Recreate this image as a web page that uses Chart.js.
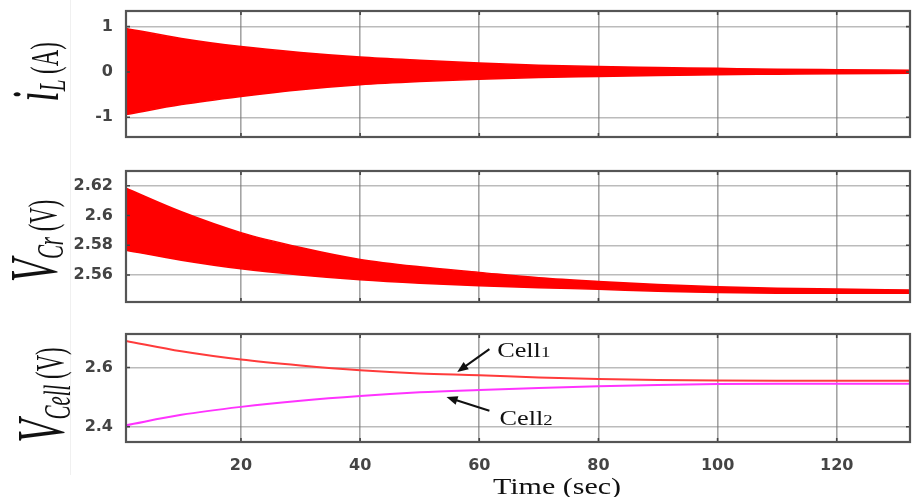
<!DOCTYPE html>
<html>
<head>
<meta charset="utf-8">
<script src="https://cdn.jsdelivr.net/npm/chart.js@4.4.0/dist/chart.umd.min.js"></script>
<style>
  html, body { margin: 0; padding: 0; background: #fff; }
  body { width: 912px; height: 497px; position: relative; overflow: hidden; }
  .panel { position: absolute; left: 0; width: 912px; }
  .edge { position: absolute; left: 70px; top: 0; width: 1px; height: 475px; background: #f0f0f0; }
  .ylab { position: absolute; white-space: nowrap; line-height: 1; color: #111;
          font-family: "Liberation Serif", "Times New Roman", serif;
          transform: translate(-50%, -50%) rotate(-90deg) scale(0.95, 1.7); }
  .ylab .m { font-style: italic; font-size: 40px; }
  .ylab sub { font-style: italic; font-size: 22px; vertical-align: -4px; }
  .ylab .u { font-size: 24px; margin-left: 6px; }
  .xlab { position: absolute; left: 557px; top: 486px; white-space: nowrap; line-height: 1;
          font-family: "Liberation Serif", "Times New Roman", serif; font-size: 24px; color: #111;
          transform: translate(-50%, -50%) scaleX(1.25); }
</style>
</head>
<body>
<div class="edge"></div>
<div class="panel" style="top:0;height:150px"><canvas id="c1"></canvas></div>
<div class="panel" style="top:155px;height:160px"><canvas id="c2"></canvas></div>
<div class="panel" style="top:320px;height:177px"><canvas id="c3"></canvas></div>

<div class="ylab" style="left:37px;top:72px"><span class="m">i</span><sub>L</sub><span class="u">(A)</span></div>
<div class="ylab" style="left:35px;top:241px"><span class="m">V</span><sub>Cr</sub><span class="u">(V)</span></div>
<div class="ylab" style="left:42px;top:395px"><span class="m">V</span><sub>Cell</sub><span class="u">(V)</span></div>
<div class="xlab">Time (sec)</div>

<script>
// values (envelopes of the oscillating traces)
const timeSec = [0.7, 10, 20, 30, 40, 50, 60, 70, 80, 90, 100, 110, 120, 132.3];
const iLUpper = [0.96, 0.74, 0.56, 0.43, 0.33, 0.26, 0.20, 0.15, 0.12, 0.10, 0.08, 0.06, 0.05, 0.04];
const iLLower = [-0.94, -0.72, -0.54, -0.39, -0.28, -0.21, -0.16, -0.12, -0.10, -0.08, -0.06, -0.05, -0.04, -0.03];
const vCrUpper = [2.6183, 2.6025, 2.5885, 2.5785, 2.5705, 2.5655, 2.5618, 2.5582, 2.5557, 2.5537, 2.5522, 2.5512, 2.5506, 2.5499];
const vCrLower = [2.5767, 2.5700, 2.5642, 2.5600, 2.5568, 2.5545, 2.5528, 2.5515, 2.5504, 2.5492, 2.5482, 2.5478, 2.5477, 2.5477];
const cell1 = [2.690, 2.655, 2.627, 2.607, 2.591, 2.580, 2.574, 2.566, 2.561, 2.558, 2.556, 2.555, 2.555, 2.555];
const cell2 = [2.405, 2.440, 2.467, 2.488, 2.504, 2.516, 2.524, 2.531, 2.537, 2.541, 2.544, 2.545, 2.545, 2.545];

const xTicks = [20, 40, 60, 80, 100, 120];
const iLTicks = [-1, 0, 1];
const vCrTicks = [2.56, 2.58, 2.6, 2.62];
const vCellTicks = [2.4, 2.6];

// arrow labels in the bottom panel: text anchor, arrow tail, arrow tip (time, volts)
const cellNotes = [
  { name: 'Cell', sub: '1', text: [63, 2.636], tail: [61.7, 2.662], tip: [56.3, 2.585] },
  { name: 'Cell', sub: '2', text: [63.4, 2.405], tail: [61.7, 2.454], tip: [54.5, 2.500] }
];

const tickFont = { family: '"DejaVu Sans", sans-serif', size: 16, weight: 'bold' };

function pts(ys) {
  return ys.map((y, i) => ({ x: timeSec[i], y: y }));
}

// box round the plot plus small inward tick marks, like the matlab frame
const framePlugin = {
  id: 'frame',
  afterDraw(chart) {
    const a = chart.chartArea, ctx = chart.ctx;
    const xs = chart.scales.x, ys = chart.scales.y;
    ctx.save();
    ctx.strokeStyle = '#444';
    ctx.lineWidth = 1.6;
    ctx.beginPath();
    xs.ticks.forEach(t => {
      const px = xs.getPixelForValue(t.value);
      ctx.moveTo(px, a.top); ctx.lineTo(px, a.top + 4);
      ctx.moveTo(px, a.bottom); ctx.lineTo(px, a.bottom - 4);
    });
    ys.ticks.forEach(t => {
      const py = ys.getPixelForValue(t.value);
      ctx.moveTo(a.left, py); ctx.lineTo(a.left + 4, py);
      ctx.moveTo(a.right, py); ctx.lineTo(a.right - 4, py);
    });
    ctx.stroke();
    ctx.strokeStyle = '#555';
    ctx.lineWidth = 2.2;
    ctx.strokeRect(a.left, a.top, a.right - a.left, a.bottom - a.top);
    ctx.restore();
  }
};

const notesPlugin = {
  id: 'notes',
  afterDatasetsDraw(chart) {
    const ctx = chart.ctx, xs = chart.scales.x, ys = chart.scales.y;
    const P = p => [xs.getPixelForValue(p[0]), ys.getPixelForValue(p[1])];
    ctx.save();
    cellNotes.forEach(n => {
      const [x0, y0] = P(n.tail), [x1, y1] = P(n.tip);
      const ang = Math.atan2(y1 - y0, x1 - x0);
      ctx.strokeStyle = '#111';
      ctx.fillStyle = '#111';
      ctx.lineWidth = 2;
      ctx.beginPath();
      ctx.moveTo(x0, y0);
      ctx.lineTo(x1 - 8 * Math.cos(ang), y1 - 8 * Math.sin(ang));
      ctx.stroke();
      ctx.beginPath();
      ctx.moveTo(x1, y1);
      ctx.lineTo(x1 - 11 * Math.cos(ang) + 4.5 * Math.sin(ang), y1 - 11 * Math.sin(ang) - 4.5 * Math.cos(ang));
      ctx.lineTo(x1 - 11 * Math.cos(ang) - 4.5 * Math.sin(ang), y1 - 11 * Math.sin(ang) + 4.5 * Math.cos(ang));
      ctx.closePath();
      ctx.fill();

      const [tx, ty] = P(n.text);
      ctx.translate(tx, ty);
      ctx.scale(1.25, 1);
      ctx.textBaseline = 'alphabetic';
      ctx.font = '21px "Liberation Serif", serif';
      ctx.fillText(n.name, 0, 0);
      const w = ctx.measureText(n.name).width;
      ctx.font = '15px "Liberation Serif", serif';
      ctx.fillText(n.sub, w, 0);
      ctx.setTransform(1, 0, 0, 1, 0, 0);
    });
    ctx.restore();
  }
};

function makePanel(id, datasets, yMin, yMax, yTicks, opts) {
  new Chart(document.getElementById(id), {
    type: 'line',
    data: { datasets: datasets },
    plugins: [framePlugin].concat(opts.plugins || []),
    options: {
      responsive: true,
      maintainAspectRatio: false,
      animation: false,
      layout: { padding: { top: opts.top, right: 2, left: 0, bottom: 0 } },
      plugins: { legend: { display: false }, tooltip: { enabled: false } },
      elements: { point: { radius: 0 }, line: { cubicInterpolationMode: 'monotone' } },
      scales: {
        x: {
          type: 'linear',
          min: 0.7,
          max: 132.3,
          afterBuildTicks: s => { s.ticks = xTicks.map(v => ({ value: v })); },
          afterFit: s => { s.height = opts.xHeight; s.paddingLeft = 0; s.paddingRight = 0; },
          border: { display: false },
          grid: { color: 'rgba(90,90,90,0.55)', lineWidth: 1.6, drawTicks: false },
          ticks: {
            display: !!opts.xLabels,
            font: tickFont,
            color: '#444',
            padding: 14,
            maxRotation: 0,
            callback: v => String(v)
          }
        },
        y: {
          min: yMin,
          max: yMax,
          afterBuildTicks: s => { s.ticks = yTicks.map(v => ({ value: v })); },
          afterFit: s => { s.width = 126; s.paddingTop = 0; s.paddingBottom = 0; },
          border: { display: false },
          grid: { color: 'rgba(120,120,120,0.5)', lineWidth: 1.5, drawTicks: false },
          ticks: { font: tickFont, color: '#444', padding: 13, callback: v => String(v) }
        }
      }
    }
  });
}

makePanel('c1', [
  { data: pts(iLUpper), borderColor: '#ff0000', backgroundColor: '#ff0000', borderWidth: 1.5, fill: '+1' },
  { data: pts(iLLower), borderColor: '#ff0000', backgroundColor: '#ff0000', borderWidth: 1.5, fill: false }
], -1.435, 1.345, iLTicks, { top: 11, xHeight: 13 });

makePanel('c2', [
  { data: pts(vCrUpper), borderColor: '#ff0000', backgroundColor: '#ff0000', borderWidth: 1.5, fill: '+1' },
  { data: pts(vCrLower), borderColor: '#ff0000', backgroundColor: '#ff0000', borderWidth: 1.5, fill: false }
], 2.5419, 2.6299, vCrTicks, { top: 16, xHeight: 13 });

makePanel('c3', [
  { data: pts(cell2), borderColor: '#ff33ff', borderWidth: 2, fill: false },
  { data: pts(cell1), borderColor: '#ff3b3b', borderWidth: 2, fill: false }
], 2.3483, 2.7132, vCellTicks, { top: 14, xHeight: 55, xLabels: true, plugins: [notesPlugin] });
</script>
</body>
</html>
